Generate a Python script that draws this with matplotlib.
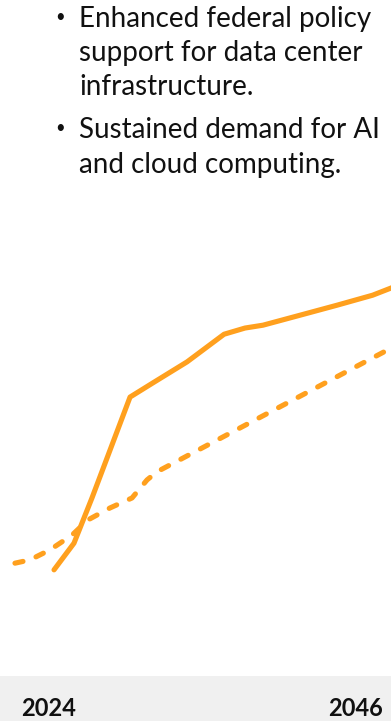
import matplotlib.pyplot as plt

plt.rcParams['font.family'] = ['Lato', 'DejaVu Sans']

# data (x in years, y in index units)
solid_years = [2024.36, 2025.79, 2027.08, 2029.81, 2031.46, 2033.9, 2036.55,
               2038.05, 2039.34, 2042.0, 2044.65, 2047.2, 2048.6]
solid_vals = [22.3, 27.9, 37.4, 58.6, 61.6, 66.0, 71.8, 73.1, 73.7, 75.8,
              77.9, 80.0, 81.6]
dashed_years = [2021.56, 2022.64, 2024.07, 2025.65, 2026.8, 2028.37, 2029.95,
                2031.03, 2031.74, 2048.6]
dashed_vals = [23.7, 24.4, 26.5, 29.6, 32.8, 35.3, 37.4, 41.2, 42.9, 69.0]
tick_years = [2024, 2046]
bullets = [
    ["Enhanced federal policy", "support for data center", "infrastructure."],
    ["Sustained demand for AI", "and cloud computing."],
]

orange = '#FFA01E'
W, H = 391, 721
fig = plt.figure(figsize=(W / 100, H / 100), dpi=100)

xlim = (2024 - 49 / 13.95, 2024 + (W - 49) / 13.95)

ax = fig.add_axes([0, 45 / H, 1, (676 - 200) / H])
ax.plot(solid_years, solid_vals, color=orange, lw=3.7, solid_capstyle='round',
        solid_joinstyle='round')
ax.plot(dashed_years, dashed_vals, color=orange, lw=3.7, dashes=(1.6, 2.7),
        dash_capstyle='round')
ax.set_xlim(*xlim)
ax.set_ylim(0, 100)
ax.axis('off')

# grey band with the year labels
band = fig.add_axes([0, 0, 1, 45 / H])
band.set_facecolor('#f0f0f0')
band.set_xlim(*xlim)
band.set_ylim(0, 1)
for s in band.spines.values():
    s.set_visible(False)
band.set_xticks([])
band.set_yticks([])
for yr in tick_years:
    band.text(yr, 5 / 45, str(yr), ha='center', va='baseline', fontsize=17,
              fontweight='bold', color='#111111')

# bullet text
baselines = [[27, 61, 95], [138, 173]]
for lines, ys in zip(bullets, baselines):
    fig.text(59.7 / W, 1 - (ys[0] - 10) / H, "•", fontsize=12, ha='center',
             va='center', color='#111111')
    for line, y in zip(lines, ys):
        fig.text(79 / W, 1 - y / H, line, fontsize=20, va='baseline', color='#111111')

plt.savefig('out.png', dpi=100)
